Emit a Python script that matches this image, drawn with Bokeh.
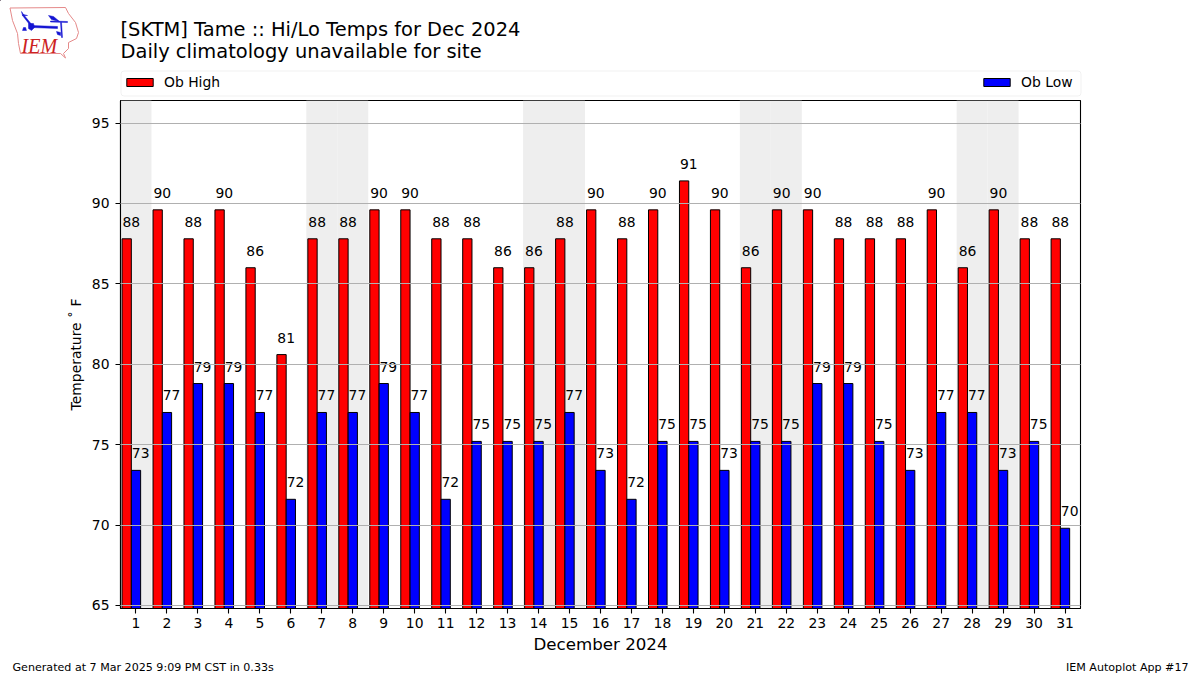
from bokeh.plotting import figure
from bokeh.embed import file_html
from bokeh.resources import INLINE
from bokeh.models import (ColumnDataSource, Range1d, FixedTicker, Legend, LegendItem,
                          BoxAnnotation, Label)
from bokeh.core.properties import value

FONT = "DejaVu Sans"

days = list(range(1, 32))
ob_high = [87.8, 89.6, 87.8, 89.6, 86.0, 80.6, 87.8, 87.8, 89.6, 89.6, 87.8, 87.8, 86.0, 86.0, 87.8, 89.6,
           87.8, 89.6, 91.4, 89.6, 86.0, 89.6, 89.6, 87.8, 87.8, 87.8, 89.6, 86.0, 89.6, 87.8, 87.8]
ob_low = [73.4, 77.0, 78.8, 78.8, 77.0, 71.6, 77.0, 77.0, 78.8, 77.0, 71.6, 75.2, 75.2, 75.2, 77.0, 73.4,
          71.6, 75.2, 75.2, 73.4, 75.2, 75.2, 78.8, 78.8, 75.2, 73.4, 77.0, 77.0, 73.4, 75.2, 69.8]
weekend_days = [1, 7, 8, 14, 15, 21, 22, 28, 29]
y_ticks = [65, 70, 75, 80, 85, 90, 95]
Y_MIN, Y_MAX = 64.81, 96.4
HEAD_H, FOOT_H = 98, 20

# ---------- main plot ----------
p = figure(width=1200, height=675 - HEAD_H - FOOT_H, output_backend="svg", toolbar_location=None,
           x_range=Range1d(0.5, 31.5), y_range=Range1d(Y_MIN, Y_MAX),
           frame_width=960, frame_height=508,
           min_border_left=120, min_border_right=120, min_border_top=2, min_border_bottom=47,
           background_fill_color="white", border_fill_color="white")

p.vbar(x=weekend_days, width=1.0, bottom=Y_MIN, top=Y_MAX, fill_color="#eeeeee", line_color=None, level="underlay")

hi_src = ColumnDataSource(dict(x=[d - 0.3 for d in days], top=ob_high,
                               lx=[d - 0.15 for d in days], label=[f"{v:.0f}" for v in ob_high]))
lo_src = ColumnDataSource(dict(x=days, top=ob_low,
                               lx=[d + 0.15 for d in days], label=[f"{v:.0f}" for v in ob_low]))
p.vbar(x="x", top="top", bottom=0, width=0.3, source=hi_src, fill_color="#ff0000", line_color="black", line_width=1)
p.vbar(x="x", top="top", bottom=0, width=0.3, source=lo_src, fill_color="#0000ff", line_color="black", line_width=1)
for s in (hi_src, lo_src):
    p.text(x="lx", y="top", text="label", source=s, text_font=value(FONT), text_font_size="13.9px",
           text_color="black", text_align="center", text_baseline="alphabetic", y_offset=-17)

p.xgrid.visible = False
p.ygrid.ticker = FixedTicker(ticks=y_ticks)
p.ygrid.grid_line_color = "#b0b0b0"
p.ygrid.grid_line_width = 1.1
p.ygrid.level = "annotation"
p.outline_line_color = "black"
p.outline_line_width = 1.1
p.outline_line_alpha = 1

p.xaxis.ticker = FixedTicker(ticks=days)
p.yaxis.ticker = FixedTicker(ticks=y_ticks)
for ax in (p.xaxis[0], p.yaxis[0]):
    ax.major_label_text_font = FONT
    ax.major_label_text_font_size = "13.9px"
    ax.major_label_text_color = "black"
    ax.major_tick_in = 0
    ax.major_tick_out = 5
    ax.major_tick_line_color = "black"
    ax.major_tick_line_width = 1.1
    ax.minor_tick_line_color = None
    ax.axis_line_color = "black"
    ax.axis_line_width = 1.1
    ax.axis_label_text_font = FONT
    ax.axis_label_text_font_style = "normal"
    ax.axis_label_text_color = "black"
p.xaxis.axis_label = "December 2024"
p.xaxis.axis_label_text_font_size = "16.67px"
p.xaxis.axis_label_standoff = 4
p.xaxis.major_label_standoff = 4
p.yaxis.axis_label = "Temperature ˚ F"
p.yaxis.axis_label_text_font_size = "13.9px"
p.yaxis.axis_label_standoff = 5
p.yaxis.major_label_standoff = 6

# ---------- header strip: logo, titles, legend ----------
def strip(h):
    f = figure(width=1200, height=h, output_backend="svg", toolbar_location=None,
               x_range=Range1d(0, 1200), y_range=Range1d(h, 0),
               x_axis_type=None, y_axis_type=None,
               min_border=0, min_border_left=0, min_border_right=0, min_border_top=0, min_border_bottom=0,
               background_fill_color="white", border_fill_color="white")
    f.outline_line_color = None
    return f

head = strip(HEAD_H)

def label(f, x, y, s, size, **kw):
    kw.setdefault("text_font", FONT)
    kw.setdefault("text_color", "black")
    f.add_layout(Label(x=x, y=y, text=s, text_font_size=size, text_baseline="middle", **kw))

label(head, 120, 29, "[SKTM] Tame :: Hi/Lo Temps for Dec 2024", "19.44px")
label(head, 120, 51, "Daily climatology unavailable for site", "19.44px")

head.add_layout(BoxAnnotation(left=120.5, right=1080.5, top=70.5, bottom=95.5, fill_color="white",
                              line_color="#d0d0d0", line_width=1, border_radius=3, level="underlay"))
# legend keys: renderers lying outside the strip's visible range
proxy_hi = head.vbar(x=[-100], top=[-100], bottom=[-110], width=1, fill_color="#ff0000", line_color="black")
proxy_lo = head.vbar(x=[-100], top=[-100], bottom=[-110], width=1, fill_color="#0000ff", line_color="black")
head.add_layout(Legend(items=[LegendItem(label="Ob High", renderers=[proxy_hi]),
                              LegendItem(label="Ob Low", renderers=[proxy_lo])],
                       orientation="horizontal", location=(123, 8), border_line_color=None, background_fill_alpha=0,
                       label_text_font=FONT, label_text_font_size="13.9px", label_text_color="black",
                       glyph_width=33, glyph_height=10, label_standoff=8, padding=4, margin=0, spacing=760,
                       click_policy="none"))

# logo
BLUE = "#1414d2"
iowa_x = [9.5, 65, 68, 75, 78, 76, 68, 68, 63, 65, 60, 20, 18, 17, 12]
iowa_y = [7.5, 7, 13, 22, 32, 38, 42, 48, 53, 57.5, 53, 53, 43, 33, 20]
head.patch(iowa_x, iowa_y, fill_color=None, line_color="#e58a8a", line_width=1)
logo_parts = [
    ([31, 57, 57, 31], [25, 26, 28, 27]),
    ([23, 32, 31, 22], [14, 25, 26.5, 15]),
    ([21, 23, 27, 22], [11, 14, 15, 15]),
    ([28, 33, 34, 31, 28], [23, 23, 27, 30, 28]),
    ([48, 53, 59, 51], [15, 16, 21, 19]),
    ([50, 67, 67, 50], [20.5, 21, 22, 21.5]),
    ([60, 61, 62, 61], [22, 22, 37, 37]),
    ([56, 60, 60, 57], [31, 32, 35, 34]),
    ([23, 25, 26, 22], [27, 27, 30, 30]),
]
for xs, ys in logo_parts:
    head.patch(xs, ys, fill_color=BLUE, line_color=BLUE, line_width=0.5)
label(head, 21, 45, "IEM", "20px", text_font="Liberation Serif", text_font_style="italic", text_color="#cc2222")

# ---------- footer strip ----------
foot = strip(FOOT_H)
label(foot, 12, 11, "Generated at 7 Mar 2025 9:09 PM CST in 0.33s", "11.1px")
label(foot, 1188, 11, "IEM Autoplot App #17", "11.1px", text_align="right")

open("out.html", "w").write(file_html([head, p, foot], INLINE))
